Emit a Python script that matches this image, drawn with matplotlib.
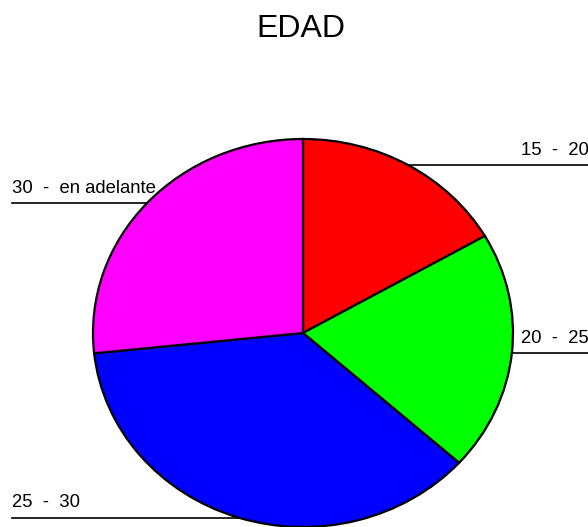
import numpy as np
import matplotlib.pyplot as plt

plt.rcParams['font.family'] = ['Liberation Sans', 'DejaVu Sans']

# datos de la torta
grupos = ['15  -  20', '20  -  25', '25  -  30', '30  -  en adelante']
cantidades = [5, 6, 11, 8]
colores = ['#ff0000', '#00ff00', '#0000ff', '#ff00ff']

W, H = 588, 527
fig = plt.figure(figsize=(W / 100, H / 100), dpi=100)

# el circulo queda algo achatado, como en el original
cx, cy, rx, ry = 303, 333, 210, 194
ax = fig.add_axes([(cx - rx) / W, (H - cy - ry) / H, 2 * rx / W, 2 * ry / H])

wedges, _ = ax.pie(cantidades, colors=colores, startangle=90, counterclock=False,
                   wedgeprops=dict(edgecolor='black', linewidth=1.6))
ax.set_aspect('auto')
ax.set_xlim(-1, 1)
ax.set_ylim(-1, 1)
ax.axis('off')

# etiquetas con linea horizontal desde el borde
x_der = (W - cx) / rx
x_izq = -(cx - 12) / rx
for w, lab in zip(wedges, grupos):
    mid = np.deg2rad((w.theta1 + w.theta2) / 2)
    y = np.sin(mid)
    xb = np.cos(mid)
    if xb >= 0:
        ax.plot([xb, x_der], [y, y], color='black', lw=1.2, clip_on=False)
        ax.annotate(lab, (1.04, y), xytext=(0, 4.5), textcoords='offset points',
                    ha='left', va='bottom', fontsize=13.3, annotation_clip=False)
    else:
        ax.plot([x_izq, xb], [y, y], color='black', lw=1.2, clip_on=False)
        ax.annotate(lab, (x_izq, y), xytext=(0, 4.5), textcoords='offset points',
                    ha='left', va='bottom', fontsize=13.3, annotation_clip=False)

fig.text(301 / W, 1 - 29 / H, 'EDAD', ha='center', va='center', fontsize=23)

fig.savefig('out.png', dpi=100)
